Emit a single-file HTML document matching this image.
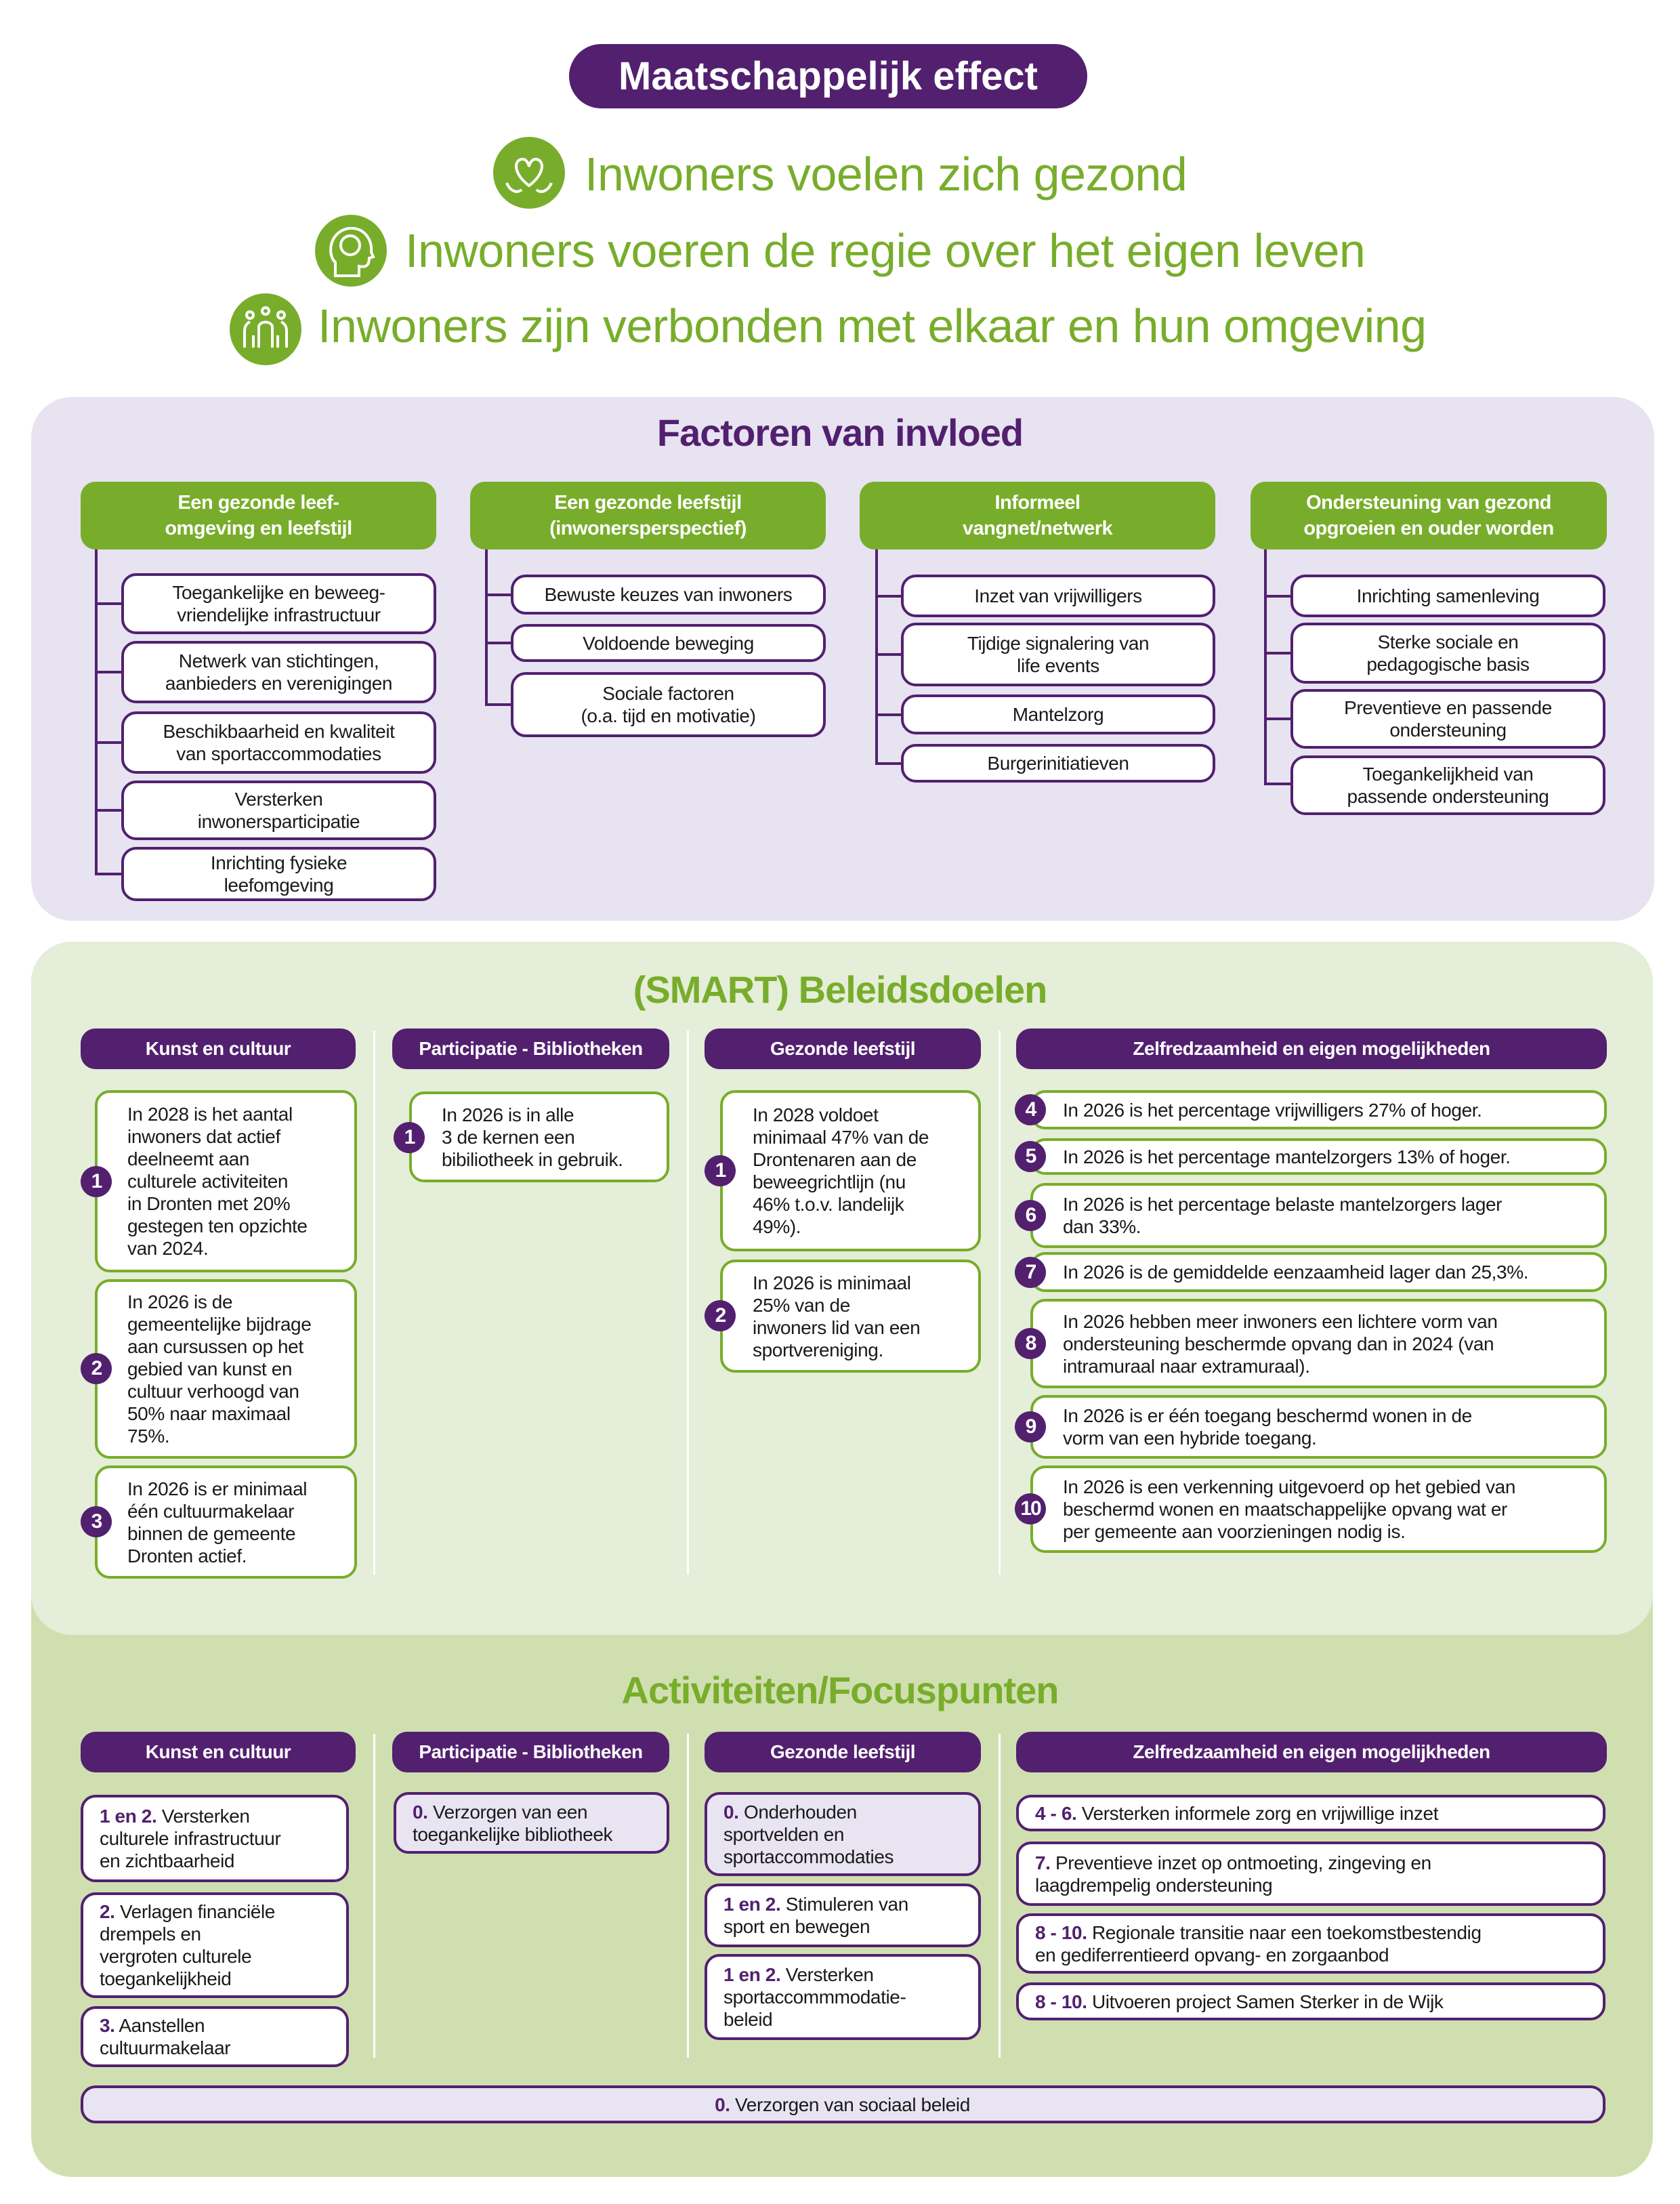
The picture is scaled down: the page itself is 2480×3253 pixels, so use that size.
<!DOCTYPE html>
<html><head><meta charset="utf-8">
<style>
*{box-sizing:border-box;margin:0;padding:0}
body{width:2480px;height:3253px;position:relative;background:#fff;font-family:"Liberation Sans",sans-serif;color:#1a1a1a;overflow:hidden}
.a{position:absolute}
.pill{position:absolute;background:#52206f;color:#fff;border-radius:40px;display:flex;align-items:center;justify-content:center;font-weight:bold}
.gh{position:absolute;background:#78ad2b;color:#fff;border-radius:22px;display:flex;align-items:center;justify-content:center;text-align:center;font-weight:bold;font-size:29px;line-height:38px;letter-spacing:-0.5px}
.ph{position:absolute;background:#52206f;color:#fff;border-radius:22px;display:flex;align-items:center;justify-content:center;text-align:center;font-weight:bold;font-size:28px;letter-spacing:-0.5px}
.fb{position:absolute;background:#fff;border:4px solid #52206f;border-radius:22px;display:flex;align-items:center;justify-content:center;text-align:center;font-size:28px;line-height:33px;letter-spacing:-0.4px}
.gb{position:absolute;background:#fff;border:4px solid #78ad2b;border-radius:22px;display:flex;align-items:center;font-size:28px;line-height:33px;letter-spacing:-0.4px;padding-left:44px;padding-right:2px;white-space:nowrap}
.pb{position:absolute;background:#fff;border:4px solid #52206f;border-radius:22px;display:flex;align-items:center;font-size:28px;line-height:33px;letter-spacing:-0.4px;padding-left:24px;padding-right:2px;white-space:nowrap}
.pb.l{background:#e8e4f2}
.pb b{color:#52206f}
.n{position:absolute;width:46px;height:46px;border-radius:50%;background:#52206f;color:#fff;font-weight:bold;font-size:30px;display:flex;align-items:center;justify-content:center;letter-spacing:-2px}
.vl{position:absolute;width:4px;background:#52206f}
.hl{position:absolute;height:4px;background:#52206f}
.sep{position:absolute;width:3px;background:#fff}
.ttl{position:absolute;left:0;width:2480px;text-align:center;font-weight:bold;font-size:56px;letter-spacing:-1px}
.line{position:absolute;color:#78ad2b;font-size:70px;white-space:nowrap;letter-spacing:-0.5px}
.ic{position:absolute;width:106px;height:106px;border-radius:50%;background:#78ad2b}
</style></head><body>

<div class="pill" style="left:840px;top:65px;width:765px;height:95px;font-size:58px;border-radius:48px">Maatschappelijk effect</div>

<div class="ic" style="left:728px;top:202px"><svg width="106" height="106" viewBox="0 0 106 106" fill="none" stroke="#fff" stroke-width="4"><path d="M53 72 C30 55 30 35 42 33 C48 32 52 38 53 44 C54 38 58 32 64 33 C76 35 76 55 53 72Z"/><path d="M20 68 C25 80 35 84 42 78 M86 68 C81 80 71 84 64 78"/></svg></div>
<div class="line" style="left:863px;top:217px">Inwoners voelen zich gezond</div>
<div class="ic" style="left:465px;top:317px"><svg width="106" height="106" viewBox="0 0 106 106" fill="none" stroke="#fff" stroke-width="4"><path d="M30 90 V70 C18 60 20 25 50 20 C75 18 85 40 83 55 L86 62 L80 64 C80 75 75 78 65 76 V90Z"/><circle cx="52" cy="45" r="14"/></svg></div>
<div class="line" style="left:598px;top:330px">Inwoners voeren de regie over het eigen leven</div>
<div class="ic" style="left:339px;top:433px"><svg width="106" height="106" viewBox="0 0 106 106" fill="none" stroke="#fff" stroke-width="4"><circle cx="30" cy="32" r="5"/><circle cx="53" cy="26" r="5"/><circle cx="76" cy="32" r="5"/><path d="M22 80 V55 C22 45 30 42 30 42 M84 80 V55 C84 45 76 42 76 42 M43 80 V50 C43 40 63 40 63 50 V80 M35 80 V62 M71 80 V62"/></svg></div>
<div class="line" style="left:469px;top:441px">Inwoners zijn verbonden met elkaar en hun omgeving</div>

<!-- Factoren -->
<div class="a" style="left:46px;top:586px;width:2396px;height:773px;background:#e7e3f1;border-radius:60px"></div>
<div class="ttl" style="top:606px;color:#52206f">Factoren van invloed</div>

<div class="gh" style="left:119px;top:711px;width:525px;height:100px">Een gezonde leef-<br>omgeving en leefstijl</div>
<div class="gh" style="left:694px;top:711px;width:525px;height:100px">Een gezonde leefstijl<br>(inwonersperspectief)</div>
<div class="gh" style="left:1269px;top:711px;width:525px;height:100px">Informeel<br>vangnet/netwerk</div>
<div class="gh" style="left:1846px;top:711px;width:526px;height:100px">Ondersteuning van gezond<br>opgroeien en ouder worden</div>

<div class="vl" style="left:140px;top:811px;height:481px"></div>
<div class="hl" style="left:140px;top:889px;width:40px"></div>
<div class="hl" style="left:140px;top:990px;width:40px"></div>
<div class="hl" style="left:140px;top:1094px;width:40px"></div>
<div class="hl" style="left:140px;top:1194px;width:40px"></div>
<div class="hl" style="left:140px;top:1288px;width:40px"></div>
<div class="fb" style="left:179px;top:846px;width:465px;height:90px">Toegankelijke en beweeg-<br>vriendelijke infrastructuur</div>
<div class="fb" style="left:179px;top:946px;width:465px;height:92px">Netwerk van stichtingen,<br>aanbieders en verenigingen</div>
<div class="fb" style="left:179px;top:1050px;width:465px;height:92px">Beschikbaarheid en kwaliteit<br>van sportaccommodaties</div>
<div class="fb" style="left:179px;top:1152px;width:465px;height:88px">Versterken<br>inwonersparticipatie</div>
<div class="fb" style="left:179px;top:1250px;width:465px;height:80px">Inrichting fysieke<br>leefomgeving</div>

<div class="vl" style="left:716px;top:811px;height:231px"></div>
<div class="hl" style="left:716px;top:876px;width:40px"></div>
<div class="hl" style="left:716px;top:947px;width:40px"></div>
<div class="hl" style="left:716px;top:1038px;width:40px"></div>
<div class="fb" style="left:754px;top:848px;width:465px;height:59px">Bewuste keuzes van inwoners</div>
<div class="fb" style="left:754px;top:921px;width:465px;height:56px">Voldoende beweging</div>
<div class="fb" style="left:754px;top:992px;width:465px;height:96px">Sociale factoren<br>(o.a. tijd en motivatie)</div>

<div class="vl" style="left:1292px;top:811px;height:318px"></div>
<div class="hl" style="left:1292px;top:878px;width:40px"></div>
<div class="hl" style="left:1292px;top:964px;width:40px"></div>
<div class="hl" style="left:1292px;top:1053px;width:40px"></div>
<div class="hl" style="left:1292px;top:1125px;width:40px"></div>
<div class="fb" style="left:1330px;top:848px;width:464px;height:63px">Inzet van vrijwilligers</div>
<div class="fb" style="left:1330px;top:919px;width:464px;height:94px">Tijdige signalering van<br>life events</div>
<div class="fb" style="left:1330px;top:1025px;width:464px;height:59px">Mantelzorg</div>
<div class="fb" style="left:1330px;top:1098px;width:464px;height:57px">Burgerinitiatieven</div>

<div class="vl" style="left:1866px;top:811px;height:348px"></div>
<div class="hl" style="left:1866px;top:878px;width:40px"></div>
<div class="hl" style="left:1866px;top:962px;width:40px"></div>
<div class="hl" style="left:1866px;top:1059px;width:40px"></div>
<div class="hl" style="left:1866px;top:1155px;width:40px"></div>
<div class="fb" style="left:1905px;top:848px;width:465px;height:63px">Inrichting samenleving</div>
<div class="fb" style="left:1905px;top:919px;width:465px;height:90px">Sterke sociale en<br>pedagogische basis</div>
<div class="fb" style="left:1905px;top:1017px;width:465px;height:88px">Preventieve en passende<br>ondersteuning</div>
<div class="fb" style="left:1905px;top:1115px;width:465px;height:88px">Toegankelijkheid van<br>passende ondersteuning</div>

<div class="a" style="left:46px;top:1390px;width:2394px;height:1823px;background:#d0dfb0;border-radius:60px"></div>
<div class="a" style="left:46px;top:1390px;width:2394px;height:1023px;background:#e4eed8;border-radius:60px"></div>
<div class="ttl" style="top:1428px;color:#78ad2b">(SMART) Beleidsdoelen</div>

<div class="ph" style="left:119px;top:1518px;width:406px;height:60px">Kunst en cultuur</div>
<div class="ph" style="left:579px;top:1518px;width:409px;height:60px">Participatie - Bibliotheken</div>
<div class="ph" style="left:1040px;top:1518px;width:408px;height:60px">Gezonde leefstijl</div>
<div class="ph" style="left:1500px;top:1518px;width:872px;height:60px">Zelfredzaamheid en eigen mogelijkheden</div>
<div class="sep" style="left:551px;top:1521px;height:803px"></div>
<div class="sep" style="left:1014px;top:1521px;height:803px"></div>
<div class="sep" style="left:1474px;top:1521px;height:803px"></div>

<div class="gb" style="left:140px;top:1609px;width:387px;height:269px"><div>In 2028 is het aantal<br>inwoners dat actief<br>deelneemt aan<br>culturele activiteiten<br>in Dronten met 20%<br>gestegen ten opzichte<br>van 2024.</div></div>
<div class="n" style="left:119px;top:1721px">1</div>
<div class="gb" style="left:140px;top:1888px;width:387px;height:265px"><div>In 2026 is de<br>gemeentelijke bijdrage<br>aan cursussen op het<br>gebied van kunst en<br>cultuur verhoogd van<br>50% naar maximaal<br>75%.</div></div>
<div class="n" style="left:119px;top:1997px">2</div>
<div class="gb" style="left:140px;top:2163px;width:387px;height:167px"><div>In 2026 is er minimaal<br>één cultuurmakelaar<br>binnen de gemeente<br>Dronten actief.</div></div>
<div class="n" style="left:119px;top:2223px">3</div>

<div class="gb" style="left:604px;top:1611px;width:384px;height:134px"><div>In 2026 is in alle<br>3 de kernen een<br>bibiliotheek in gebruik.</div></div>
<div class="n" style="left:581px;top:1656px">1</div>

<div class="gb" style="left:1063px;top:1609px;width:385px;height:238px"><div>In 2028 voldoet<br>minimaal 47% van de<br>Drontenaren aan de<br>beweegrichtlijn (nu<br>46% t.o.v. landelijk<br>49%).</div></div>
<div class="n" style="left:1040px;top:1705px">1</div>
<div class="gb" style="left:1063px;top:1859px;width:385px;height:167px"><div>In 2026 is minimaal<br>25% van de<br>inwoners lid van een<br>sportvereniging.</div></div>
<div class="n" style="left:1040px;top:1919px">2</div>

<div class="gb" style="left:1521px;top:1609px;width:851px;height:58px"><div>In 2026 is het percentage vrijwilligers 27% of hoger.</div></div>
<div class="n" style="left:1498px;top:1615px">4</div>
<div class="gb" style="left:1521px;top:1680px;width:851px;height:54px"><div>In 2026 is het percentage mantelzorgers 13% of hoger.</div></div>
<div class="n" style="left:1498px;top:1684px">5</div>
<div class="gb" style="left:1521px;top:1746px;width:851px;height:96px"><div>In 2026 is het percentage belaste mantelzorgers lager<br>dan 33%.</div></div>
<div class="n" style="left:1498px;top:1771px">6</div>
<div class="gb" style="left:1521px;top:1848px;width:851px;height:59px"><div>In 2026 is de gemiddelde eenzaamheid lager dan 25,3%.</div></div>
<div class="n" style="left:1498px;top:1855px">7</div>
<div class="gb" style="left:1521px;top:1917px;width:851px;height:132px"><div>In 2026 hebben meer inwoners een lichtere vorm van<br>ondersteuning beschermde opvang dan in 2024 (van<br>intramuraal naar extramuraal).</div></div>
<div class="n" style="left:1498px;top:1960px">8</div>
<div class="gb" style="left:1521px;top:2059px;width:851px;height:94px"><div>In 2026 is er één toegang beschermd wonen in de<br>vorm van een hybride toegang.</div></div>
<div class="n" style="left:1498px;top:2083px">9</div>
<div class="gb" style="left:1521px;top:2163px;width:851px;height:129px"><div>In 2026 is een verkenning uitgevoerd op het gebied van<br>beschermd wonen en maatschappelijke opvang wat er<br>per gemeente aan voorzieningen nodig is.</div></div>
<div class="n" style="left:1498px;top:2204px">10</div>

<div class="ttl" style="top:2462px;color:#78ad2b">Activiteiten/Focuspunten</div>
<div class="ph" style="left:119px;top:2556px;width:406px;height:60px">Kunst en cultuur</div>
<div class="ph" style="left:579px;top:2556px;width:409px;height:60px">Participatie - Bibliotheken</div>
<div class="ph" style="left:1040px;top:2556px;width:408px;height:60px">Gezonde leefstijl</div>
<div class="ph" style="left:1500px;top:2556px;width:872px;height:60px">Zelfredzaamheid en eigen mogelijkheden</div>
<div class="sep" style="left:551px;top:2559px;height:478px"></div>
<div class="sep" style="left:1014px;top:2559px;height:478px"></div>
<div class="sep" style="left:1474px;top:2559px;height:478px"></div>

<div class="pb" style="left:119px;top:2649px;width:396px;height:129px"><div><b>1 en 2.</b> Versterken<br>culturele infrastructuur<br>en zichtbaarheid</div></div>
<div class="pb" style="left:119px;top:2793px;width:396px;height:156px"><div><b>2.</b> Verlagen financiële<br>drempels en<br>vergroten culturele<br>toegankelijkheid</div></div>
<div class="pb" style="left:119px;top:2961px;width:396px;height:90px"><div><b>3.</b> Aanstellen<br>cultuurmakelaar</div></div>

<div class="pb l" style="left:581px;top:2645px;width:407px;height:91px"><div><b>0.</b> Verzorgen van een<br>toegankelijke bibliotheek</div></div>

<div class="pb l" style="left:1040px;top:2645px;width:408px;height:124px"><div><b>0.</b> Onderhouden<br>sportvelden en<br>sportaccommodaties</div></div>
<div class="pb" style="left:1040px;top:2780px;width:408px;height:94px"><div><b>1 en 2.</b> Stimuleren van<br>sport en bewegen</div></div>
<div class="pb" style="left:1040px;top:2884px;width:408px;height:127px"><div><b>1 en 2.</b> Versterken<br>sportaccommmodatie-<br>beleid</div></div>

<div class="pb" style="left:1500px;top:2649px;width:870px;height:54px"><div><b>4 - 6.</b> Versterken informele zorg en vrijwillige inzet</div></div>
<div class="pb" style="left:1500px;top:2718px;width:870px;height:95px"><div><b>7.</b> Preventieve inzet op ontmoeting, zingeving en<br>laagdrempelig ondersteuning</div></div>
<div class="pb" style="left:1500px;top:2824px;width:870px;height:89px"><div><b>8 - 10.</b> Regionale transitie naar een toekomstbestendig<br>en gediferrentieerd opvang- en zorgaanbod</div></div>
<div class="pb" style="left:1500px;top:2926px;width:870px;height:56px"><div><b>8 - 10.</b> Uitvoeren project Samen Sterker in de Wijk</div></div>

<div class="pb l" style="left:119px;top:3078px;width:2251px;height:56px;justify-content:center;padding-left:0"><div><b>0.</b> Verzorgen van sociaal beleid</div></div>

</body></html>
